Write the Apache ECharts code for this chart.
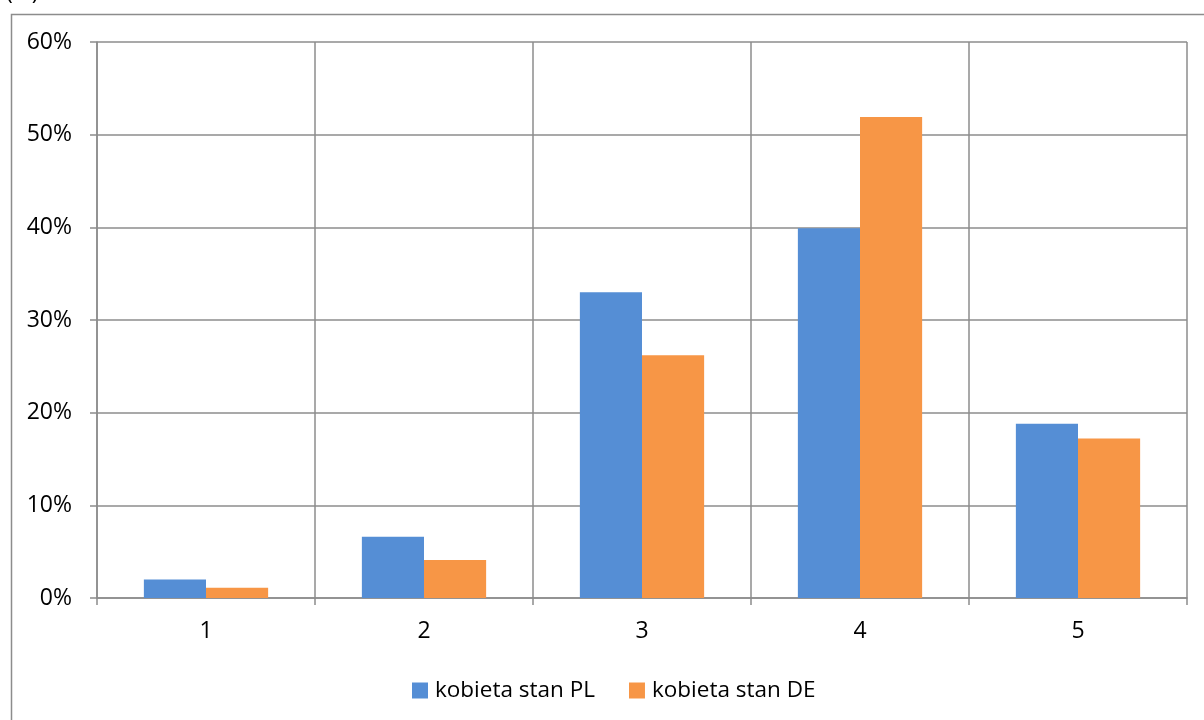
<!DOCTYPE html>
<html>
<head>
<meta charset="utf-8">
<script src="https://cdn.jsdelivr.net/npm/echarts@6/dist/echarts.min.js"></script>
<style>html,body{margin:0;padding:0;background:#fff}#c{width:1204px;height:720px}</style>
</head>
<body>
<div id="c"></div>
<script>
const categories = ['1', '2', '3', '4', '5'];
const seriesNames = ['kobieta stan PL', 'kobieta stan DE'];
const valuesPL = [0.02, 0.066, 0.33, 0.399, 0.188];
const valuesDE = [0.011, 0.041, 0.262, 0.519, 0.172];
const yTicks = [0, 0.1, 0.2, 0.3, 0.4, 0.5, 0.6];

const FONT = 'Open Sans';
const GRID = '#8c8c8c';
const chart = echarts.init(document.getElementById('c'), null, {renderer: 'canvas'});
chart.setOption({
  animation: false,
  backgroundColor: '#fff',
  textStyle: {fontFamily: FONT},
  graphic: [
    {type: 'rect', left: 9, top: 12, shape: {width: 1400, height: 900},
     style: {fill: 'none', stroke: GRID, lineWidth: 1.5}, z: -1},
    {type: 'text', x: 6, y: 4, style: {text: '(%)', fontFamily: FONT, fontSize: 23, fill: '#000', verticalAlign: 'bottom'}}
  ],
  grid: {left: 97, right: 17, top: 42, bottom: 122, containLabel: false},
  legend: {
    data: seriesNames,
    left: 407, top: 674,
    itemWidth: 16, itemHeight: 16, itemGap: 34,
    icon: 'rect',
    textStyle: {fontFamily: FONT, fontSize: 22.5, color: '#000', padding: [0, 0, 0, 2]}
  },
  xAxis: {
    type: 'category',
    data: categories,
    axisLine: {show: true, lineStyle: {color: GRID, width: 1.5}},
    axisTick: {show: true, length: 7, lineStyle: {color: GRID, width: 1.5}},
    splitLine: {show: true, lineStyle: {color: GRID, width: 1.5}},
    axisLabel: {color: '#000', fontFamily: FONT, fontSize: 23, margin: 22}
  },
  yAxis: {
    type: 'value',
    min: yTicks[0], max: yTicks[yTicks.length - 1], interval: 0.1,
    axisLine: {show: true, lineStyle: {color: GRID, width: 1.5}},
    axisTick: {show: true, length: 7, lineStyle: {color: GRID, width: 1.5}},
    splitLine: {show: true, lineStyle: {color: GRID, width: 1.5}},
    axisLabel: {color: '#000', fontFamily: FONT, fontSize: 23, margin: 25,
      formatter: v => Math.round(v * 100) + '%'}
  },
  series: [
    {name: seriesNames[0], type: 'bar', data: valuesPL, barGap: '0%', barCategoryGap: '43%',
     itemStyle: {color: '#558ED5'}},
    {name: seriesNames[1], type: 'bar', data: valuesDE, barGap: '0%', barCategoryGap: '43%',
     itemStyle: {color: '#F79646'}}
  ]
});
</script>
</body>
</html>
